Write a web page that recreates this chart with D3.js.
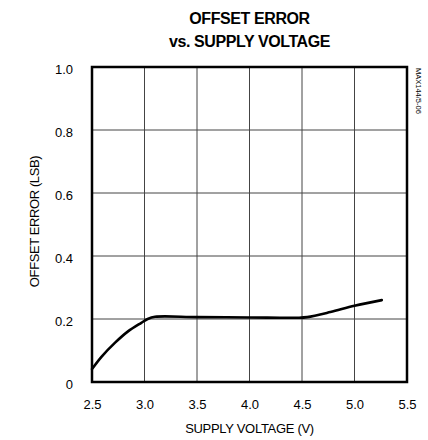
<!DOCTYPE html>
<html><head><meta charset="utf-8">
<script src="https://cdn.jsdelivr.net/npm/d3@7"></script>
<style>
html,body{margin:0;padding:0;background:#fff;}
text{font-family:"Liberation Sans",Arial,sans-serif;fill:#000;}
</style></head>
<body><svg id="c" width="428" height="440"></svg>
<script>
const supplyVoltage = [2.5, 2.59, 2.72, 2.84, 2.97, 3.03, 3.1, 3.5, 4.0, 4.45, 4.55, 4.77, 5.0, 5.26];
const offsetError   = [0.041, 0.080, 0.125, 0.160, 0.188, 0.200, 0.207, 0.206, 0.205, 0.204, 0.206, 0.222, 0.242, 0.260];
const xTicks = [2.5, 3.0, 3.5, 4.0, 4.5, 5.0, 5.5];
const yTicks = [0, 0.2, 0.4, 0.6, 0.8, 1.0];
const titleLines = ["OFFSET ERROR", "vs. SUPPLY VOLTAGE"];
const xLabel = "SUPPLY VOLTAGE (V)";
const yLabel = "OFFSET ERROR (LSB)";
const partId = "MAX144/5-06";

const svg = d3.select("#c");
const L = 92, R = 407, T = 67, B = 382;
const x = d3.scaleLinear().domain([2.5, 5.5]).range([L, R]);
const y = d3.scaleLinear().domain([0, 1]).range([B, T]);

// grid
const g = svg.append("g");
g.selectAll(".vg").data(xTicks.slice(1, -1)).enter().append("line")
  .attr("x1", d => x(d)).attr("x2", d => x(d)).attr("y1", T).attr("y2", B)
  .attr("stroke", "#444").attr("stroke-width", 1);
g.selectAll(".hg").data(yTicks.slice(1, -1)).enter().append("line")
  .attr("y1", d => y(d)).attr("y2", d => y(d)).attr("x1", L).attr("x2", R)
  .attr("stroke", "#444").attr("stroke-width", 1);

// curve
const pts = supplyVoltage.map((v, i) => [v, offsetError[i]]);
svg.append("path").datum(pts)
  .attr("d", d3.line().x(d => x(d[0])).y(d => y(d[1])).curve(d3.curveCatmullRom.alpha(0.5)))
  .attr("fill", "none").attr("stroke", "#000").attr("stroke-width", 2.6)
  .attr("stroke-linecap", "round");

// frame
svg.append("rect").attr("x", L).attr("y", T).attr("width", R - L).attr("height", B - T)
  .attr("fill", "none").attr("stroke", "#000").attr("stroke-width", 2.5);

// axes (labels only)
const xAxis = d3.axisBottom(x).tickValues(xTicks).tickFormat(d3.format(".1f")).tickSize(0).tickPadding(0);
const xa = svg.append("g").attr("transform", `translate(0,${B})`).call(xAxis);
xa.select(".domain").remove();
xa.selectAll("text").attr("y", 27).attr("dy", 0).style("font-size", "13px")
  .style("font-family", "'Liberation Sans',Arial,sans-serif");

const yAxis = d3.axisLeft(y).tickValues(yTicks).tickFormat(d => d === 0 ? "0" : d3.format(".1f")(d)).tickSize(0).tickPadding(0);
const ya = svg.append("g").attr("transform", `translate(${L},0)`).call(yAxis);
ya.select(".domain").remove();
ya.selectAll("text").attr("x", -19).attr("dy", "0.5em").style("font-size", "13px")
  .style("font-family", "'Liberation Sans',Arial,sans-serif");

// titles
svg.selectAll(".title").data(titleLines).enter().append("text")
  .attr("x", (L + R) / 2).attr("y", (d, i) => 24 + i * 22.5)
  .attr("text-anchor", "middle").style("font-weight", "bold").style("font-size", "16px")
  .style("letter-spacing", "-0.4px")
  .text(d => d);

svg.append("text").attr("x", (L + R) / 2).attr("y", 433).attr("text-anchor", "middle")
  .style("font-size", "13px").style("letter-spacing", "-0.3px").text(xLabel);

svg.append("text").attr("transform", `translate(39,${(T + B) / 2 - 3}) rotate(-90)`)
  .attr("text-anchor", "middle").style("font-size", "13px").style("letter-spacing", "-0.4px").text(yLabel);

svg.append("text").attr("transform", `translate(416,68) rotate(90)`)
  .attr("text-anchor", "start").style("font-size", "7.5px").text(partId);
</script></body></html>
